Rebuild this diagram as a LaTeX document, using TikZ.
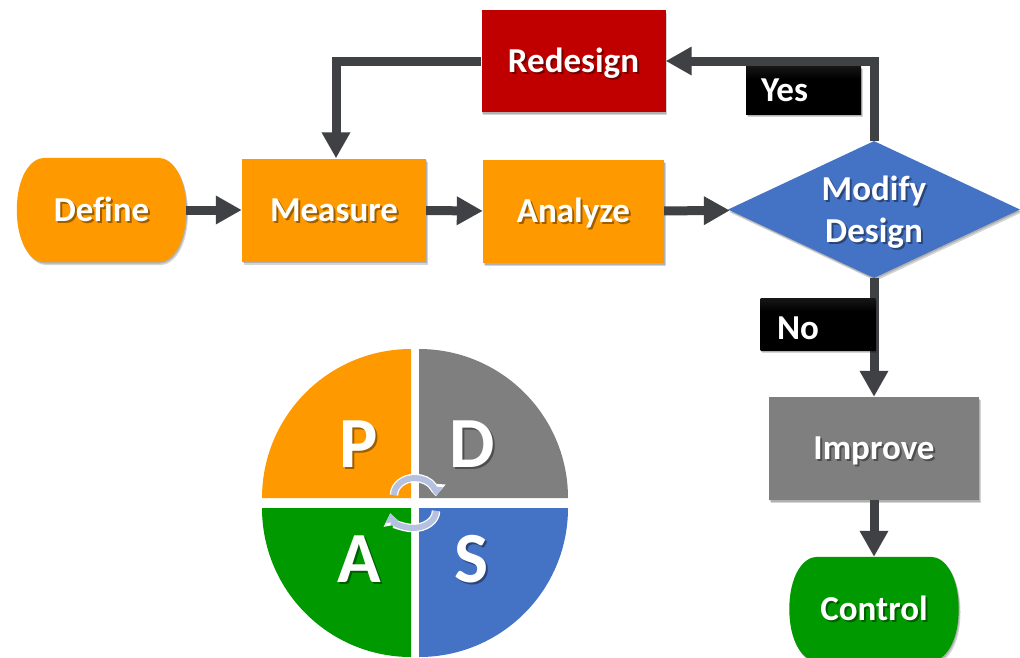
\documentclass[tikz,border=0pt]{standalone}
\usepackage{fontspec}
\setmainfont[Ligatures=NoCommon]{Carlito}
\usepackage{xcolor}
\usetikzlibrary{positioning,shapes.geometric,shadows,arrows.meta,backgrounds}
\definecolor{cOrange}{HTML}{FF9900}
\definecolor{cGreen}{HTML}{009900}
\definecolor{cBlue}{HTML}{4472C4}
\definecolor{cGrey}{HTML}{7F7F7F}
\definecolor{cRed}{HTML}{C00000}
\definecolor{cLine}{HTML}{404144}
\definecolor{cArc}{HTML}{B4C2E0}
\pgfdeclareverticalshading{lblshade}{100bp}{color(0bp)=(black); color(62bp)=(black); color(100bp)=(black!74)}
\newcommand{\shadowed}[1]{\leavevmode\rlap{\kern2pt\raisebox{-2pt}{\pgfsetfillopacity{0.38}\color{black}#1}}\pgfsetfillopacity{1}\color{white}#1}
% flat top and bottom, bulging sides
\newcommand{\termshape}[2]{\begin{scope}[on background layer]
	\path[boxshadow,fill=#2] ([xshift=28pt]#1.north west) -- ([xshift=-28pt]#1.north east)
	.. controls ([xshift=-13pt]#1.north east) and ([yshift=32pt]#1.east) .. (#1.east)
	.. controls ([yshift=-32pt]#1.east) and ([xshift=-13pt]#1.south east) .. ([xshift=-28pt]#1.south east)
	-- ([xshift=28pt]#1.south west)
	.. controls ([xshift=13pt]#1.south west) and ([yshift=-32pt]#1.west) .. (#1.west)
	.. controls ([yshift=32pt]#1.west) and ([xshift=13pt]#1.north west) .. cycle;
	\end{scope}}
\tikzset{
	softshadow/.style={general shadow={shadow xshift=#1*.6pt,shadow yshift=-#1*1pt,opacity=.17,fill=black}},
	boxshadow/.style={softshadow=1.5,softshadow=3},
	lettering/.style={text=white,font=\fontsize{35}{42}\selectfont\bfseries,text height=25pt,text depth=3pt},
	proc/.style={rectangle,boxshadow,lettering,inner sep=0pt,minimum height=103pt},
	term/.style={rectangle,lettering,inner sep=0pt,minimum width=169pt,minimum height=104pt},
	decis/.style={diamond,shape aspect=2.13,boxshadow,font=\fontsize{35}{42}\selectfont\bfseries,align=center,inner sep=0pt,fill=cBlue,minimum width=292pt,minimum height=137pt},
	answer/.style={rectangle,boxshadow,lettering,inner sep=0pt,shading=lblshade,minimum width=115pt},
	conn/.style={draw=cLine,line width=9pt,-{Triangle[length=26pt,width=27pt]}},
	quad/.style={text=white,font=\fontsize{72}{72}\selectfont\bfseries,inner sep=0pt},
	turn/.style={line width=6pt,draw=cArc,-{Triangle[length=9pt,width=13pt]}},
	turnedge/.style={line width=8.5pt,draw=white,-{Triangle[length=12pt,width=17pt]}}
}
\begin{document}
\begin{tikzpicture}[x=1pt,y=1pt,on grid]
	\useasboundingbox (0,0) rectangle (1020,-657);
	\node[term] (s_define) at (101.5,-210) {\shadowed{Define}};
	\termshape{s_define}{cOrange}
	\node[proc,fill=cOrange,minimum width=184pt] (s_measure) [right=232.5pt of s_define] {\shadowed{Measure}};
	\node[proc,fill=cOrange,minimum width=181pt] (s_analyze) [below right=1.5pt and 239.5pt of s_measure] {\shadowed{Analyze}};
	\node[proc,fill=cRed,minimum width=184pt,minimum height=102pt] (s_redesign) [above=150.5pt of s_analyze] {\shadowed{Redesign}};
	\node[decis] (s_modify) [above right=2pt and 300.5pt of s_analyze] {\raisebox{0pt}[26pt][0pt]{\shadowed{Modify}}\\\raisebox{0pt}[0pt][3pt]{\shadowed{Design}}};
	\node[proc,fill=cGrey,minimum width=210pt] (s_improve) [below=239pt of s_modify] {\shadowed{Improve}};
	\node[term] (s_control) [below=160.5pt of s_improve] {\shadowed{Control}};
	\termshape{s_control}{cGreen}
	\path[conn] (s_define) -- (s_measure);
	\path[conn] (s_measure) -- (s_analyze);
	\path[conn] (s_analyze) -- (s_modify);
	\path[conn] (s_modify.north) |- (s_redesign.east);
	\path[conn] (s_redesign.west) -| ([xshift=2pt]s_measure.north);
	\path[conn] (s_modify.south) -- (s_improve.north);
	\path[conn] (s_improve) -- (s_control);
	\node[answer,text width=85pt,align=left,minimum height=48pt] (l_yes) [above=119.5pt of s_modify,xshift=-70.5pt] {\shadowed{Yes}};
	\node[answer,text width=82pt,align=left,minimum height=52pt,text height=34pt] (l_no) [below=114.5pt of s_modify,xshift=-56pt] {\shadowed{No}};
	% plan do act study wheel
	\fill[cOrange] (411,-498) -- (262,-498) arc (180:90:149) -- cycle;
	\fill[cGrey] (419,-498) -- (419,-349) arc (90:0:149) -- cycle;
	\fill[cGreen] (411,-508) -- (411,-657) arc (270:180:149) -- cycle;
	\fill[cBlue] (419,-508) -- (568,-508) arc (0:-90:149) -- cycle;
	\node[quad] (q_p) at (359,-445) {\shadowed{P}};
	\node[quad] (q_d) at (472,-445) {\shadowed{D}};
	\node[quad] (q_a) at (359,-560) {\shadowed{A}};
	\node[quad] (q_s) at (472,-560) {\shadowed{S}};
	\draw[turnedge] (394,-495) arc[start angle=180,end angle=-3,x radius=21,y radius=17];
	\draw[turn] (394,-495) arc[start angle=180,end angle=-3,x radius=21,y radius=17];
	\draw[turnedge] (436,-511) arc[start angle=0,end angle=-172,x radius=23,y radius=17];
	\draw[turn] (436,-511) arc[start angle=0,end angle=-172,x radius=23,y radius=17];
\end{tikzpicture}
\end{document}
